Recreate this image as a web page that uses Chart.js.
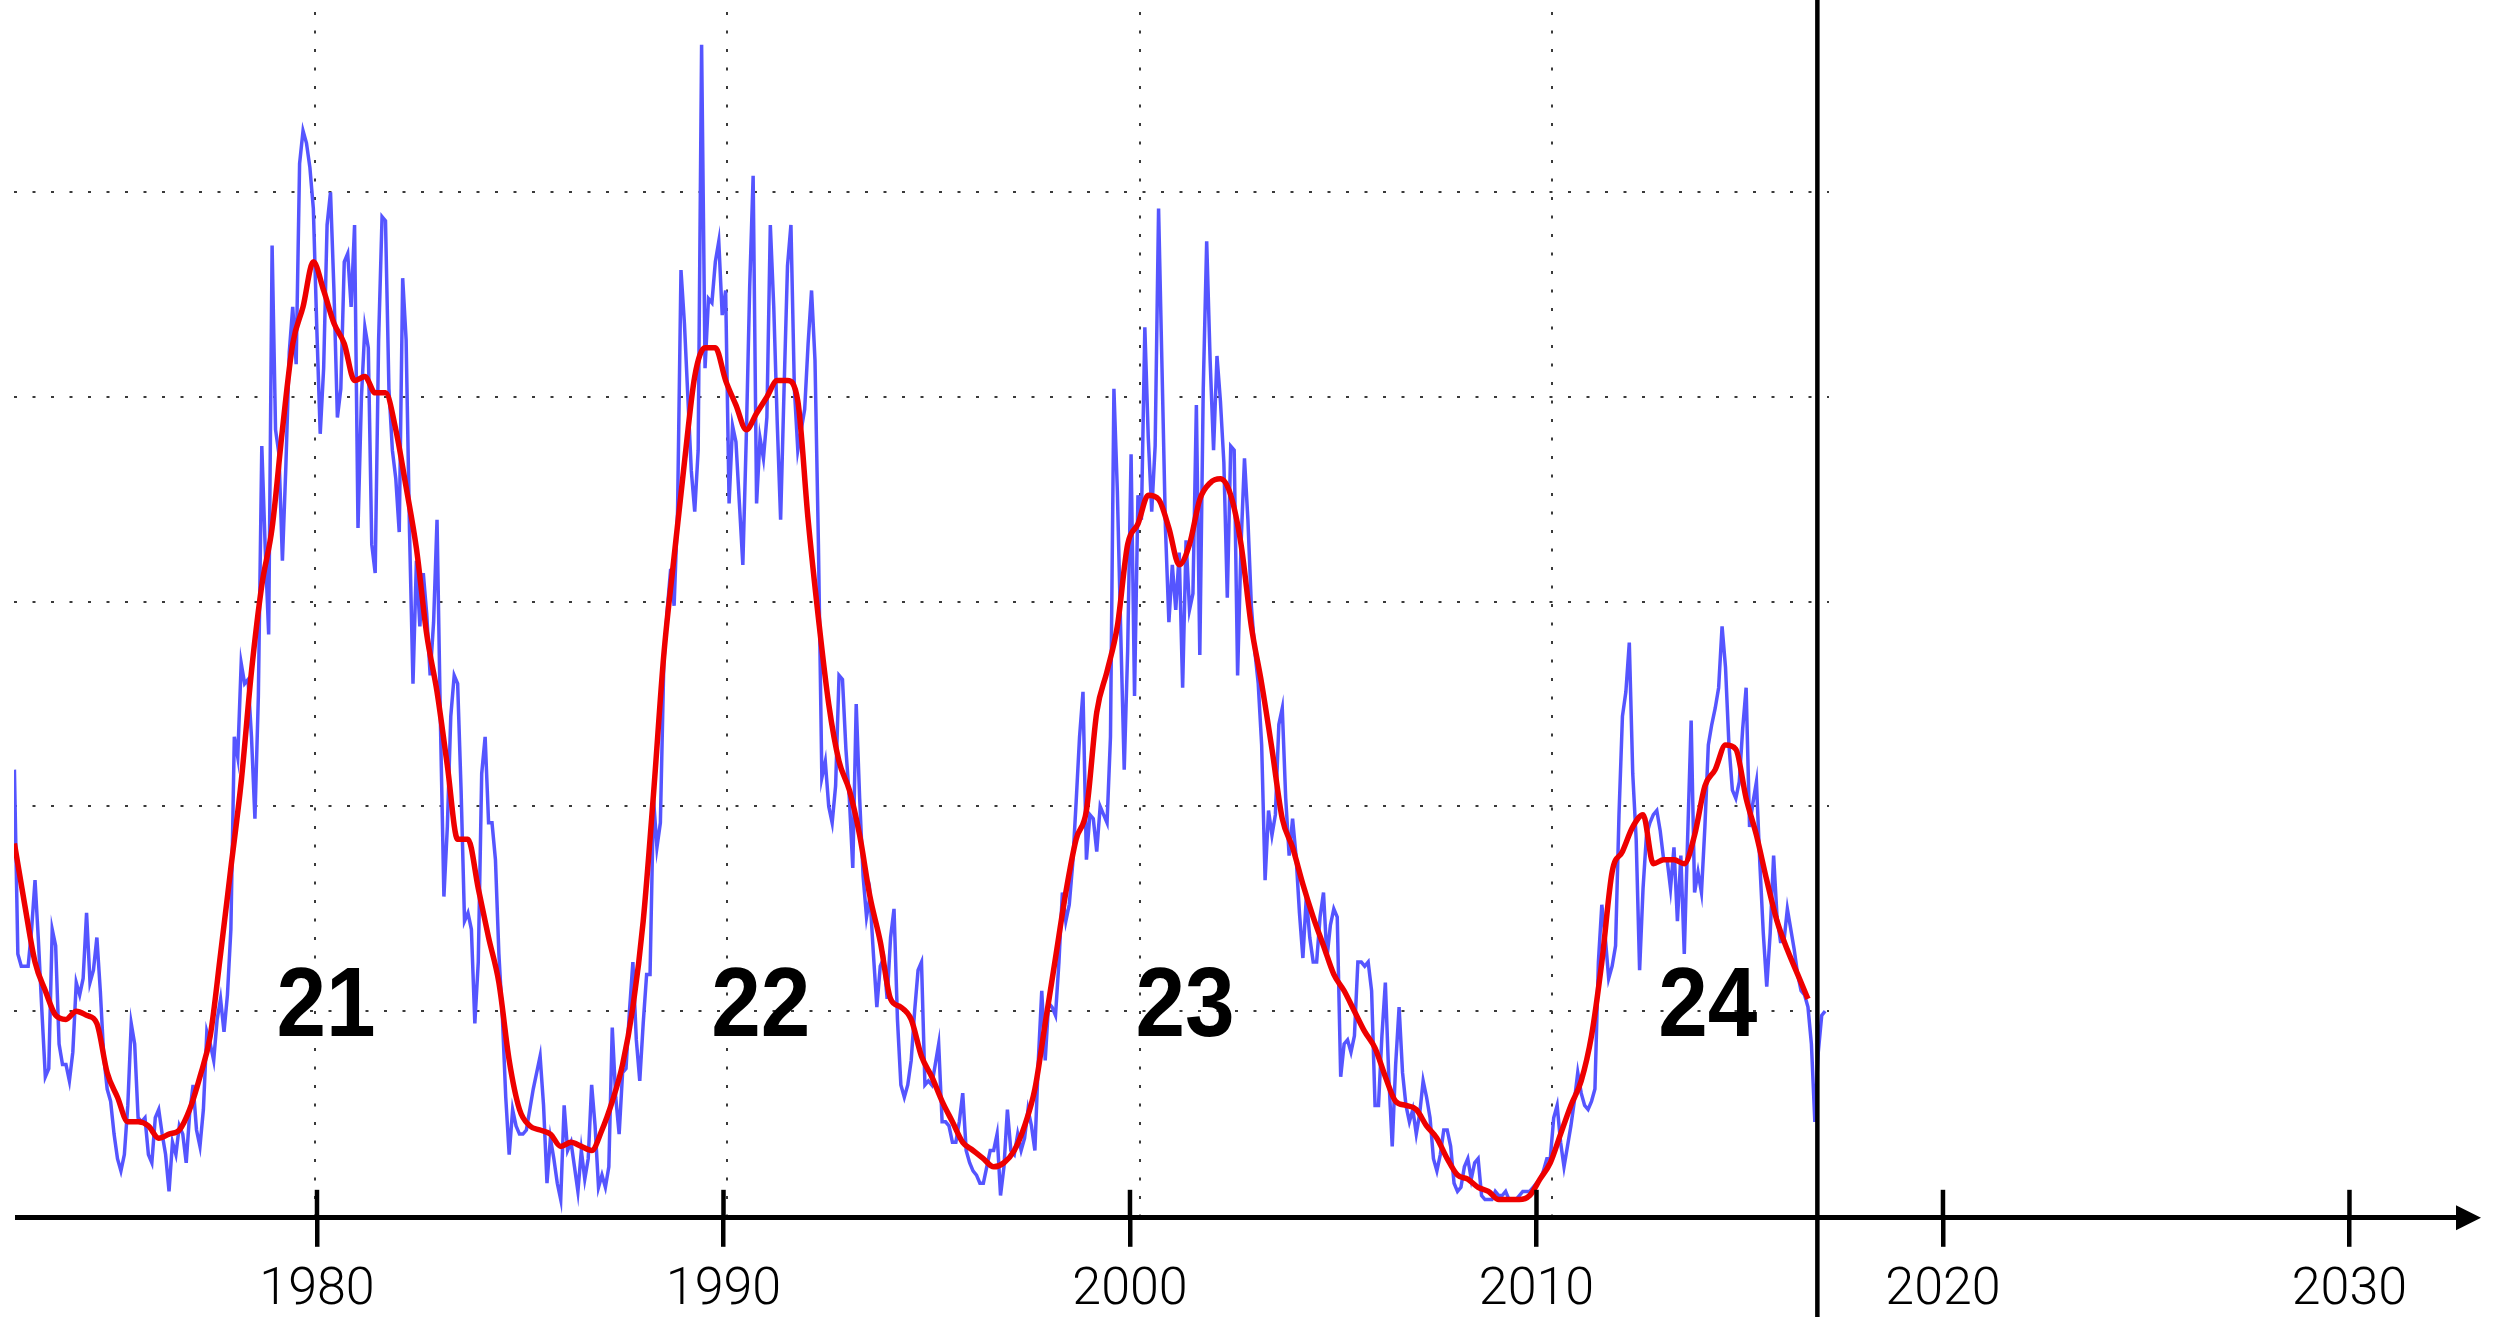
<!DOCTYPE html>
<html>
<head>
<meta charset="utf-8">
<script src="https://cdn.jsdelivr.net/npm/chart.js@4.4.0/dist/chart.umd.min.js"></script>
<style>
  html, body { margin: 0; padding: 0; background: #fff; }
  body { width: 2506px; height: 1317px; position: relative; overflow: hidden; }
  #plotBox { position: absolute; left: 0; top: 0; width: 1829px; height: 1216px; }
  /* taller than the window so the axis lands where the labels need it */
  #axisBox { position: absolute; left: 0; top: 0; width: 2506px; height: 1336px; }
</style>
</head>
<body>
<div id="plotBox"><canvas id="sunspots"></canvas></div>
<div id="axisBox"><canvas id="timeline"></canvas></div>
<script>
// monthly mean sunspot number, one value per month from Sep 1972
const monthlyStart = 1972.71
const monthlySunspots = [
  109,64,61,61,61,70,82,67,50,34,36,70,
  66,42,37,37,33,40,57,54,58,74,57,60,
  68,55,39,31,28,20,14,11,15,27,47,42,
  24,23,24,15,13,24,26,20,15,6,18,15,
  22,20,13,25,32,21,17,26,45,42,38,48,
  53,45,54,70,117,112,135,130,131,117,97,127,
  188,163,142,237,192,186,160,183,211,222,208,257,
  265,262,256,246,217,191,207,242,250,226,195,202,
  233,235,222,242,168,200,217,212,164,157,214,244,
  243,202,187,180,167,229,214,167,130,160,144,157,
  147,132,145,170,120,78,95,122,132,130,104,72,
  74,70,47,62,108,117,96,96,87,64,49,29,
  15,26,22,20,20,21,26,31,35,39,27,8,
  19,14,8,4,27,16,18,12,6,16,9,14,
  32,22,7,10,7,12,46,29,20,35,36,50,
  62,43,33,47,59,59,102,90,96,135,148,158,
  149,172,231,218,200,182,172,187,286,207,224,223,
  233,238,220,226,174,193,189,174,159,190,227,254,
  174,190,185,195,242,222,194,170,202,232,242,202,
  187,192,197,213,226,209,164,107,111,100,96,105,
  132,131,114,102,85,125,102,83,73,78,64,51,
  61,63,53,68,75,48,32,29,32,38,50,60,
  62,32,33,32,37,42,23,23,22,18,18,23,
  30,16,13,11,10,8,8,12,16,16,20,5,
  12,26,16,15,20,16,19,26,22,16,38,55,
  38,52,51,49,62,79,72,76,86,101,117,128,
  87,98,97,89,100,98,96,117,202,177,142,109,
  138,186,127,176,170,217,190,172,188,246,207,168,
  145,159,148,162,129,165,148,152,198,137,202,238,
  209,187,210,199,184,151,188,187,132,164,185,170,
  149,138,130,115,82,99,93,98,120,124,102,88,
  97,88,74,63,78,68,62,62,73,79,63,71,
  75,73,34,42,43,40,44,62,62,61,62,55,
  27,27,44,57,34,17,37,51,35,27,23,26,
  20,25,33,29,24,14,11,15,21,21,17,8,
  6,7,12,14,9,13,14,5,4,4,4,6,
  5,5,6,4,4,4,5,6,6,6,7,8,
  9,11,14,14,24,27,18,12,17,22,28,35,
  30,27,26,28,31,62,76,68,58,61,66,98,
  122,128,140,108,92,60,80,93,96,98,99,94,
  87,87,80,90,72,88,64,93,121,79,84,79,
  95,115,120,124,129,144,134,115,104,102,106,119,
  129,95,101,106,86,69,56,69,88,73,67,67,
  75,70,65,59,55,54,51,42,23,40,49,50
]

// 13-month smoothed sunspot number, one value every 3 months from Sep 1972
const smoothedStart = 1972.71
const smoothedSunspots = [
  91,76,62,55,49,48,50,49,47,35,
  29,23,23,22,19,20,21,26,34,44,
  64,85,106,133,154,168,192,213,222,233,
  226,218,213,204,205,201,201,192,178,163,
  142,128,110,92,92,80,68,57,38,26,
  22,21,20,17,18,17,16,21,28,37,
  51,72,103,137,161,184,205,212,212,204,
  198,192,196,200,204,204,199,170,146,125,
  111,104,93,78,67,53,51,48,39,34,
  28,23,18,16,14,12,13,16,22,31,
  47,63,79,92,99,123,133,144,164,169,
  176,175,168,159,164,175,179,180,176,164,
  144,130,114,97,90,81,73,66,59,55,
  50,45,41,34,28,27,26,22,19,14,
  10,9,7,6,4,4,4,5,9,13,
  20,27,33,44,62,84,89,95,98,86,
  87,87,86,93,105,109,115,114,102,93,
  82,72,65,59,53
]

const gridYears = [1980, 1990, 2000, 2010]
const gridValues = [50, 100, 150, 200, 250]

const cycleNames = ["21", "22", "23", "24"]
const cycleYears = [1980.27, 1990.81, 2001.1, 2013.78]
const cycleLabelValue = 44

const axisYears = [1980, 1990, 2000, 2010, 2020, 2030]
const nowYear = 2016.91

function toPoints(start, step, values){
  return values.map((v, i) => ({x: start + i * step, y: v}))
}

const cycleLabels = {
  id: "cycleLabels",
  afterDatasetsDraw(chart){
    const {ctx, scales: {x, y}} = chart
    ctx.save()
    ctx.fillStyle = "#000"
    ctx.font = "bold 99px 'Liberation Sans', Arial, sans-serif"
    ctx.textAlign = "center"
    ctx.textBaseline = "alphabetic"
    cycleNames.forEach((name, i) => {
      ctx.save()
      ctx.translate(x.getPixelForValue(cycleYears[i]), y.getPixelForValue(cycleLabelValue))
      ctx.scale(0.9, 1)
      ctx.fillText(name, 0, 0)
      ctx.restore()
    })
    ctx.restore()
  }
}

new Chart("sunspots", {
  type: "line",
  data: {
    datasets: [
      {
        label: "smoothed",
        data: toPoints(smoothedStart, 0.25, smoothedSunspots),
        borderColor: "#ee0000",
        borderWidth: 5.5,
        pointRadius: 0,
        cubicInterpolationMode: "monotone"
      },
      {
        label: "monthly",
        data: toPoints(monthlyStart, 1 / 12, monthlySunspots),
        borderColor: "#5555ff",
        borderWidth: 3.5,
        pointRadius: 0,
        tension: 0
      }
    ]
  },
  options: {
    responsive: true,
    maintainAspectRatio: false,
    animation: false,
    layout: {padding: {left: 14, top: 12, right: 0, bottom: 0}},
    plugins: {legend: {display: false}, tooltip: {enabled: false}},
    scales: {
      x: {
        type: "linear",
        min: 1972.70,
        max: 2016.72,
        afterBuildTicks: axis => { axis.ticks = gridYears.map(v => ({value: v})) },
        ticks: {display: false},
        grid: {color: "#3a3a3a", lineWidth: 2, drawTicks: false},
        border: {display: false, dash: [3, 15.5]}
      },
      y: {
        min: 0,
        max: 294,
        afterBuildTicks: axis => { axis.ticks = gridValues.map(v => ({value: v})) },
        ticks: {display: false},
        grid: {color: "#3a3a3a", lineWidth: 2, drawTicks: false},
        border: {display: false, dash: [3, 15.5]}
      }
    }
  },
  plugins: [cycleLabels]
})

const timelineMarks = {
  id: "timelineMarks",
  afterDraw(chart){
    const {ctx, chartArea, scales: {x}} = chart
    const axisY = chartArea.bottom
    ctx.save()
    ctx.strokeStyle = "#000"
    ctx.fillStyle = "#000"
    ctx.lineWidth = 4.5
    // upper half of each tick mark, crossing the axis line
    x.ticks.forEach(t => {
      const px = x.getPixelForValue(t.value)
      ctx.beginPath()
      ctx.moveTo(px, axisY - 28)
      ctx.lineTo(px, axisY)
      ctx.stroke()
    })
    // "today" line
    const nowX = x.getPixelForValue(nowYear)
    ctx.beginPath()
    ctx.moveTo(nowX, 0)
    ctx.lineTo(nowX, chart.height)
    ctx.stroke()
    // arrow head at the end of the time axis
    ctx.beginPath()
    ctx.moveTo(chartArea.right - 2, axisY - 12.5)
    ctx.lineTo(chartArea.right + 23, axisY)
    ctx.lineTo(chartArea.right - 2, axisY + 12.5)
    ctx.closePath()
    ctx.fill()
    ctx.restore()
  }
}

new Chart("timeline", {
  type: "scatter",
  data: {datasets: []},
  options: {
    responsive: true,
    maintainAspectRatio: false,
    animation: false,
    layout: {padding: {left: 17, right: 48, top: 0, bottom: 0}},
    plugins: {legend: {display: false}, tooltip: {enabled: false}},
    scales: {
      x: {
        type: "linear",
        position: "bottom",
        min: 1972.62,
        max: 2032.67,
        afterBuildTicks: axis => { axis.ticks = axisYears.map(v => ({value: v})) },
        ticks: {
          color: "#000",
          padding: 16,
          maxRotation: 0,
          autoSkip: false,
          font: {family: "Roboto, 'Liberation Sans', sans-serif", size: 52, weight: "300", lineHeight: 1.1},
          callback: v => String(v)
        },
        grid: {color: "#000", lineWidth: 4.5, drawOnChartArea: false, drawTicks: true, tickLength: 29},
        border: {display: true, color: "#000", width: 5}
      },
      y: {display: false, min: 0, max: 1}
    }
  },
  plugins: [timelineMarks]
})
</script>
</body>
</html>
